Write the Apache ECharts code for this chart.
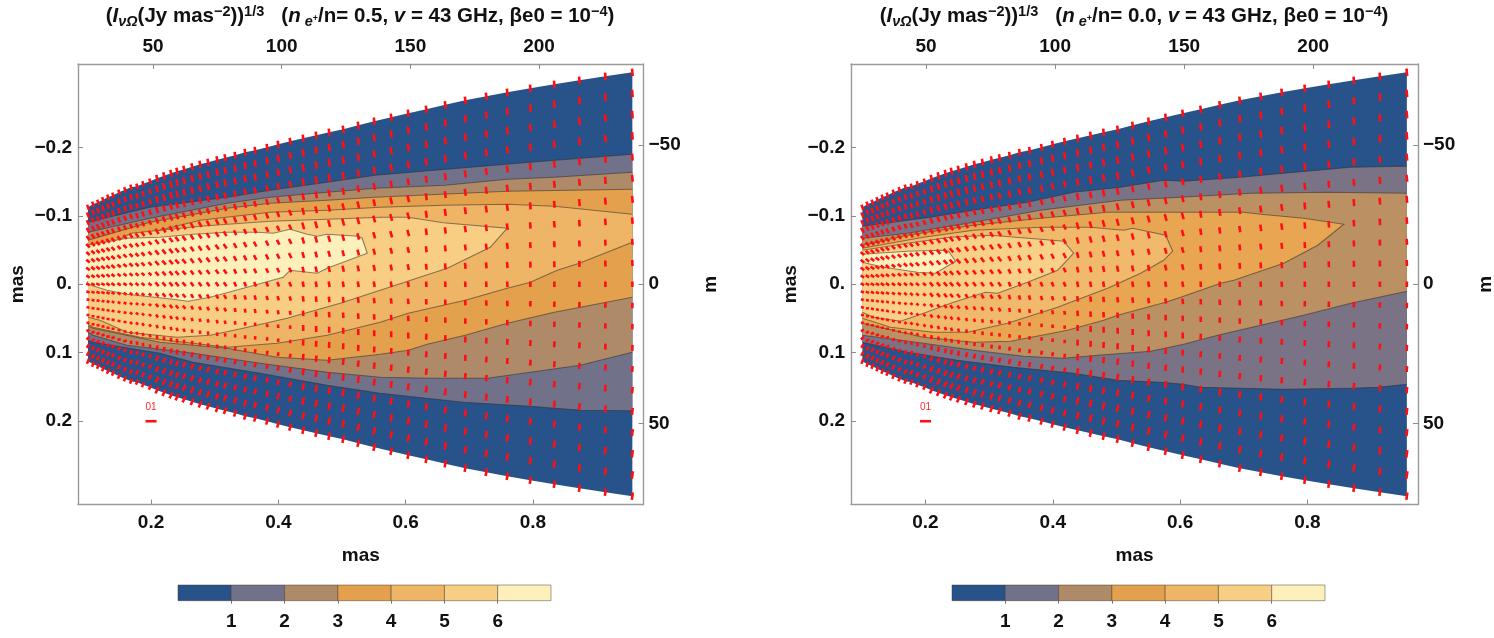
<!DOCTYPE html>
<html>
<head>
<meta charset="utf-8">
<style>html,body{margin:0;padding:0;background:#fff}#c{width:1494px;height:638px}</style>
<script src="https://cdn.jsdelivr.net/npm/echarts@6/dist/echarts.min.js"></script>
</head>
<body>
<div id="c"></div>
<script>
// ---------- axes ----------
const masTicksX = [0.2, 0.4, 0.6, 0.8];
const masMinorX = [0.1, 0.15, 0.25, 0.3, 0.35, 0.45, 0.5, 0.55, 0.65, 0.7, 0.75, 0.85, 0.9, 0.95];
const masLabelsX = ['0.2', '0.4', '0.6', '0.8'];
const mTicksTop = [50, 100, 150, 200];
const masTicksY = [-0.2, -0.1, 0, 0.1, 0.2];
const masLabelsY = ['\u22120.2', '\u22120.1', '0.', '0.1', '0.2'];
const mTicksRight = [-50, 0, 50];
const mLabelsRight = ['\u221250', '0', '50'];

// ---------- colour levels ----------
const levelValues = [1, 2, 3, 4, 5, 6];
const levelColors = ['#27528a', '#71718a', '#ae8a69', '#e3a04d', '#eeb566', '#f8ce84', '#fef0bb'];
const rightColors = ['#27528a', '#7a7386', '#bb9062', '#e8a652', '#f0b96b', '#f9d088', '#fef0bb'];

// ---------- grid of sampled columns (mas) and half width of the jet (mas) ----------
const colX = [0.1009,0.1088,0.1167,0.1245,0.1324,0.1403,0.1497,0.1591,0.1686,0.1780,0.1874,0.1984,0.2094,0.2204,0.2314,0.2409,0.2519,0.2645,0.2770,0.2896,0.3038,0.3164,0.3321,0.3478,0.3635,0.3824,0.3997,0.4186,0.4390,0.4594,0.4798,0.5019,0.5255,0.5506,0.5773,0.6041,0.6324,0.6623,0.6937,0.7267,0.7597,0.7959,0.8336,0.8730,0.9138,0.9562];
const colHalf = [0.1124,0.1168,0.1197,0.1234,0.1270,0.1299,0.1343,0.1380,0.1416,0.1431,0.1467,0.1504,0.1547,0.1584,0.1620,0.1650,0.1679,0.1715,0.1752,0.1781,0.1818,0.1847,0.1883,0.1927,0.1956,0.2000,0.2044,0.2088,0.2131,0.2175,0.2219,0.2263,0.2321,0.2380,0.2438,0.2496,0.2555,0.2620,0.2686,0.2745,0.2803,0.2861,0.2920,0.2978,0.3036,0.3095];
const rowFrac = [-1,-0.9,-0.8,-0.7,-0.6,-0.5,-0.4,-0.3,-0.2,-0.1,0,0.1,0.2,0.3,0.4,0.5,0.6,0.7,0.8,0.9,1];
const colBand = [0,0,0,0,1,1,1,1,2,2,2,2,3,3,3,3,3,4,4,4,4,4,5,5,5,5,5,5,6,6,6,6,6,6,6,6,7,7,7,7,7,8,8,8,8,8];

// tick direction in degrees from vertical, one row of values per band of columns
const tiltBand0 = [20,22,25,28,35,45,48,50,52,55,63,68,72,78,88,100,118,132,145,152,158];
const tiltBand1 = [16,18,20,24,30,42,46,48,50,52,58,62,66,72,80,92,108,125,140,148,154];
const tiltBand2 = [14,15,17,20,26,36,42,44,46,48,50,50,50,48,40,28,5,-18,-28,-28,-27];
const tiltBand3 = [12,13,15,18,24,32,38,40,42,42,42,40,38,32,20,5,-10,-22,-28,-28,-27];
const tiltBand4 = [10,11,13,16,22,28,33,35,36,36,34,30,26,16,5,-6,-16,-23,-25,-24,-23];
const tiltBand5 = [8,9,11,14,18,22,26,28,28,26,22,16,10,4,-3,-10,-15,-18,-19,-19,-18];
const tiltBand6 = [7,8,9,10,12,14,16,16,15,12,10,7,4,1,-2,-5,-8,-10,-12,-13,-13];
const tiltBand7 = [7,7,7,8,8,8,8,8,7,5,3,2,0,-2,-3,-5,-6,-8,-9,-10,-10];
const tiltBand8 = [5,5,5,5,5,5,5,4,3,2,0,-1,-2,-3,-4,-5,-6,-7,-7,-8,-8];
const tiltBands = [tiltBand0,tiltBand1,tiltBand2,tiltBand3,tiltBand4,tiltBand5,tiltBand6,tiltBand7,tiltBand8];

const sizeNear = [5.5,5.5,5.5,5.5,5,5,4.5,4.5,4.5,4,4,3.5,3,3,3,3,3.5,4,4.5,5,5.5];
const sizeMid = [7,7,7,6.5,6,6,5.5,5.5,5.5,5,5,4.5,4,3.5,3.5,4,5,5.5,6,6.5,7];
const sizeFar = [7.5,7.5,7.5,7.5,7,7,7,6.5,6,6,5.5,5.5,5.5,6,6,6.5,7,7,7.5,7.5,7.5];
const sizeBands = [sizeNear,sizeNear,sizeNear,sizeMid,sizeMid,sizeMid,sizeFar,sizeFar,sizeFar];

// ---------- contour regions, left panel (n_e+/n = 0.5) ----------
const leftLevel1 = [[.1009,-.0905],[.1984,-.1124],[.3195,-.1270],[.3871,-.1372],[.4767,-.1489],[.5521,-.1591],[.7958,-.1781],[.9562,-.1898],[.9562,.1847],[.8744,.1840],[.7958,.1781],[.6905,.1723],[.5600,.1591],[.4767,.1475],[.3714,.1299],[.2660,.1139],[.2141,.1007],[.1088,.0847],[.1009,.0818]];
const leftLevel2 = [[.1009,-.0759],[.1984,-.0964],[.3195,-.1183],[.3871,-.1270],[.4767,-.1343],[.5521,-.1402],[.6622,-.1445],[.7596,-.1533],[.8335,-.1562],[.9562,-.1635],[.9562,.0993],[.8744,.1183],[.7958,.1285],[.7282,.1372],[.6386,.1372],[.5600,.1358],[.4767,.1285],[.3714,.1153],[.2660,.1007],[.1623,.0891],[.1088,.0745],[.1009,.0701]];
const leftLevel3 = [[.1009,-.0642],[.1984,-.0905],[.3195,-.1110],[.3871,-.1183],[.4767,-.1226],[.5521,-.1270],[.7596,-.1358],[.9562,-.1387],[.9562,.0190],[.8335,.0409],[.7596,.0569],[.6936,.0745],[.6339,.0876],[.6040,.0964],[.5600,.1022],[.4767,.1110],[.3981,.1066],[.3195,.0934],[.2141,.0847],[.1088,.0642],[.1009,.0613]];
const leftLevel4 = [[.1009,-.0526],[.2770,-.0934],[.3871,-.1051],[.4767,-.1080],[.5600,-.1124],[.6590,-.1153],[.7596,-.1168],[.8335,-.1139],[.9562,-.1022],[.9562,-.0613],[.8728,-.0307],[.8382,-.0204],[.7958,-.0029],[.7596,.0058],[.6936,.0234],[.6040,.0423],[.5600,.0555],[.4767,.0745],[.3981,.0861],[.3195,.0920],[.2660,.0861],[.1827,.0774],[.1088,.0628],[.1009,.0584]];
const leftLevel5 = [[.1009,-.0409],[.1686,-.0745],[.2770,-.0847],[.3871,-.0920],[.4767,-.0949],[.5600,-.0978],[.6040,-.0978],[.6590,-.0898],[.7596,-.0818],[.7329,-.0540],[.6653,-.0234],[.5600,.0088],[.4971,.0277],[.4138,.0496],[.3446,.0642],[.2927,.0745],[.2409,.0774],[.1623,.0701],[.1198,.0526],[.1009,.0482]];
const leftLevel6 = [[.1009,-.0569],[.1623,-.0672],[.2141,-.0686],[.2660,-.0730],[.3195,-.0759],[.3666,-.0759],[.3918,-.0745],[.4185,-.0803],[.4452,-.0730],[.4610,-.0701],[.4767,-.0730],[.5254,-.0701],[.5317,-.0672],[.5396,-.0453],[.4767,-.0234],[.4610,-.0161],[.4185,-.0204],[.4075,-.0102],[.3509,.0044],[.2927,.0190],[.2582,.0248],[.2346,.0219],[.1623,.0146],[.1308,.0088],[.1009,0]];
const leftLevels = [leftLevel1,leftLevel2,leftLevel3,leftLevel4,leftLevel5,leftLevel6];

// ---------- contour regions, right panel (n_e+/n = 0.0) ----------
const rightLevel1 = [[.1009,-.0847],[.2079,-.0978],[.2755,-.1080],[.3603,-.1197],[.4327,-.1343],[.5065,-.1416],[.5741,-.1518],[.6056,-.1504],[.6952,-.1562],[.7628,-.1621],[.8681,-.1708],[.9562,-.1723],[.9562,.1460],[.9105,.1504],[.8681,.1518],[.7628,.1533],[.6323,.1504],[.6056,.1460],[.5694,.1431],[.5018,.1402],[.4327,.1299],[.3383,.1212],[.2503,.1110],[.1717,.0993],[.1009,.0847]];
const rightLevel2 = [[.1009,-.0672],[.1717,-.0745],[.2755,-.0905],[.3808,-.1080],[.5065,-.1226],[.6009,-.1270],[.7109,-.1329],[.8319,-.1343],[.9562,-.1329],[.9562,.0102],[.8681,.0277],[.7942,.0453],[.7266,.0599],[.6590,.0745],[.6056,.0876],[.5537,.0978],[.4704,.1037],[.4170,.1080],[.3541,.1051],[.2755,.0964],[.1969,.0861],[.1009,.0745]];
const rightLevel3 = [[.1009,-.0569],[.1717,-.0715],[.2755,-.0861],[.3808,-.0964],[.4861,-.1051],[.5537,-.1051],[.6999,-.1051],[.7266,-.1022],[.7942,-.0964],[.8571,-.0876],[.8162,-.0569],[.7628,-.0307],[.6842,-.0058],[.6637,-.0015],[.6009,.0190],[.5773,.0263],[.5018,.0453],[.4798,.0526],[.4232,.0672],[.3336,.0832],[.2755,.0847],[.1969,.0774],[.1009,.0569]];
const rightLevel4 = [[.1009,-.0526],[.1969,-.0686],[.2755,-.0788],[.3808,-.0832],[.4594,-.0832],[.5113,-.0788],[.5254,-.0818],[.5773,-.0715],[.5883,-.0482],[.5741,-.0350],[.5380,-.0161],[.4861,.0058],[.4075,.0336],[.3289,.0569],[.2660,.0701],[.2126,.0701],[.1450,.0628],[.1009,.0496]];
const rightLevel5 = [[.1009,-.0496],[.1717,-.0599],[.2393,-.0686],[.3022,-.0715],[.3808,-.0657],[.4170,-.0628],[.4327,-.0453],[.4075,-.0204],[.3603,-.0029],[.3132,.0131],[.2943,.0117],[.2440,.0263],[.1969,.0423],[.1607,.0540],[.1182,.0482],[.1009,.0409]];
const rightLevel6 = [[.1009,-.0438],[.1717,-.0482],[.2236,-.0496],[.2362,-.0482],[.2472,-.0336],[.2157,-.0161],[.1874,-.0175],[.1340,-.0248],[.1009,-.0321]];
const rightLevels = [rightLevel1,rightLevel2,rightLevel3,rightLevel4,rightLevel5,rightLevel6];

// ---------- legend of the red ticks ----------
const keyTick = [[0.2, 0.2, 90, 11]];
const keyLabel = '01';
const keyLabelPos = [0.2, 0.1796];

// ---------- titles ----------
const ratioLeft = '0.5';
const ratioRight = '0.0';

const FONT = '"Liberation Sans", Arial, sans-serif';
const AXC = '#9a9a9a';
const chart = echarts.init(document.getElementById('c'), null, {renderer: 'canvas'});

const envelope = colX.map((x, i) => [x, -colHalf[i]]).concat(colX.map((x, i) => [x, colHalf[i]]).reverse());
const ticks = [];
colX.forEach((x, c) => {
  rowFrac.forEach((f, r) => {
    ticks.push([x, f * colHalf[c], tiltBands[colBand[c]][r], sizeBands[colBand[c]][r]]);
  });
});

const edgeL = colX[0], edgeR = colX[colX.length - 1];
function openRuns(verts) {
  // contour lines only: the parts of a region's outline that run along the jet's cut ends are not drawn
  const n = verts.length;
  const isCut = (a, b) => (a[0] === edgeL && b[0] === edgeL) || (a[0] === edgeR && b[0] === edgeR);
  let start = 0;
  for (let i = 0; i < n; i++) {
    if (isCut(verts[i], verts[(i + 1) % n])) { start = (i + 1) % n; break; }
  }
  const runs = [];
  let run = [verts[start]];
  for (let k = 0; k < n; k++) {
    const a = verts[(start + k) % n], b = verts[(start + k + 1) % n];
    if (isCut(a, b)) {
      if (run.length > 1) runs.push(run);
      run = [b];
    } else {
      run.push(b);
    }
  }
  if (run.length > 1) runs.push(run);
  return runs;
}
function polygonSeries(verts, fill, stroke, xi, yi) {
  const runs = stroke ? openRuns(verts) : [];
  return {
    type: 'custom', xAxisIndex: xi, yAxisIndex: yi, silent: true, clip: true,
    encode: {x: 0, y: 1}, data: verts,
    renderItem(params, api) {
      if (params.dataIndex !== 0) return null;
      const children = [{
        type: 'polygon',
        shape: {points: verts.map(v => api.coord(v))},
        style: {fill: fill, stroke: null}
      }];
      runs.forEach(r => children.push({
        type: 'polyline',
        shape: {points: r.map(v => api.coord(v))},
        style: {fill: null, stroke: stroke, lineWidth: 1.1}
      }));
      return {type: 'group', children: children};
    }
  };
}
function tickSeries(rows, xi, yi) {
  return {
    type: 'custom', xAxisIndex: xi, yAxisIndex: yi, silent: true, clip: false, z: 5,
    encode: {x: 0, y: 1}, data: rows,
    renderItem(params, api) {
      const c = api.coord([api.value(0), api.value(1)]);
      const a = api.value(2) * Math.PI / 180, h = api.value(3) / 2;
      const dx = Math.sin(a) * h, dy = Math.cos(a) * h;
      return {
        type: 'line',
        shape: {x1: c[0] - dx, y1: c[1] - dy, x2: c[0] + dx, y2: c[1] + dy},
        style: {stroke: '#ff0f14', lineWidth: 2.6, lineCap: 'butt'}
      };
    }
  };
}
function keyLabelSeries(xi, yi) {
  return {
    type: 'custom', xAxisIndex: xi, yAxisIndex: yi, silent: true, z: 5,
    encode: {x: 0, y: 1}, data: [keyLabelPos],
    renderItem(params, api) {
      const c = api.coord([api.value(0), api.value(1)]);
      return {
        type: 'text',
        style: {text: keyLabel, x: c[0], y: c[1], fill: '#ff2a2a', align: 'center', verticalAlign: 'middle', font: '10px ' + FONT}
      };
    }
  };
}
function panelSeries(levels, colors, xi, yi) {
  const out = [polygonSeries(envelope, colors[0], null, xi, yi)];
  levels.forEach((v, i) => out.push(polygonSeries(v, colors[i + 1], 'rgba(50,45,40,0.55)', xi, yi)));
  out.push(tickSeries(ticks, xi, yi));
  out.push(tickSeries(keyTick, xi, yi));
  out.push(keyLabelSeries(xi, yi));
  return out;
}
function barSeries(xi, yi) {
  const cells = levelColors.map((c, i) => [i, i + 1]);
  return {
    type: 'custom', xAxisIndex: xi, yAxisIndex: yi, silent: true,
    encode: {x: [0, 1]}, data: cells,
    renderItem(params, api) {
      const p = api.coord([api.value(0), 1]), q = api.coord([api.value(1), 0]);
      return {
        type: 'rect',
        shape: {x: p[0], y: p[1], width: q[0] - p[0], height: q[1] - p[1]},
        style: {fill: levelColors[params.dataIndex], stroke: 'rgba(60,50,40,0.45)', lineWidth: 1}
      };
    }
  };
}

const lblStyle = {color: '#111', fontFamily: FONT, fontWeight: 'bold', fontSize: 19};
const line = {show: true, onZero: false, lineStyle: {color: AXC, width: 1.4}};
const tick = (vals, len) => ({show: true, inside: true, length: len, customValues: vals, lineStyle: {color: '#8c8c8c', width: 1}});
const labelOf = (vals, labels) => v => {
  const i = vals.findIndex(k => Math.abs(k - v) < 1e-6);
  return i < 0 ? '' : labels[i];
};

function xAxes(grid, minMas, minTop) {
  return [
    {gridIndex: grid, type: 'value', position: 'bottom', min: minMas, max: 0.9737,
     axisLine: line, axisTick: tick(masTicksX, 5), splitLine: {show: false},
     axisLabel: Object.assign({margin: 9, customValues: masTicksX, formatter: labelOf(masTicksX, masLabelsX)}, lblStyle),
     name: 'mas', nameLocation: 'middle', nameGap: 42, nameMoveOverlap: false, nameTextStyle: lblStyle},
    {gridIndex: grid, type: 'value', position: 'top', min: minTop, max: 240.6,
     axisLine: line, axisTick: tick(mTicksTop, 5), splitLine: {show: false},
     axisLabel: Object.assign({margin: 8, customValues: mTicksTop, formatter: v => String(v)}, lblStyle)},
    {gridIndex: grid, type: 'value', position: 'bottom', min: minMas, max: 0.9737,
     axisLine: {show: false}, axisTick: tick(masMinorX, 3), splitLine: {show: false},
     axisLabel: {show: false}}
  ];
}
function yAxes(grid) {
  return [
    {gridIndex: grid, type: 'value', position: 'left', inverse: true, min: -0.3216, max: 0.3216,
     axisLine: line, axisTick: tick(masTicksY, 5), splitLine: {show: false},
     axisLabel: Object.assign({margin: 6, customValues: masTicksY, formatter: labelOf(masTicksY, masLabelsY)}, lblStyle),
     name: 'mas', nameLocation: 'middle', nameGap: 51, nameMoveOverlap: false, nameRotate: 90, nameTextStyle: lblStyle},
    {gridIndex: grid, type: 'value', position: 'right', inverse: true, min: -79.2, max: 79.2,
     axisLine: line, axisTick: tick(mTicksRight, 5), splitLine: {show: false},
     axisLabel: Object.assign({margin: 5, customValues: mTicksRight, formatter: labelOf(mTicksRight, mLabelsRight)}, lblStyle),
     name: 'm', nameLocation: 'middle', nameGap: 58, nameMoveOverlap: false, nameRotate: 90, nameTextStyle: lblStyle}
  ];
}
function barX(grid) {
  return {gridIndex: grid, type: 'value', min: 0, max: 7, position: 'bottom',
    axisLine: {show: false}, splitLine: {show: false},
    axisTick: {show: true, length: 3, customValues: levelValues, lineStyle: {color: '#777', width: 1}},
    axisLabel: Object.assign({margin: 12, customValues: levelValues, formatter: v => String(v)}, lblStyle)};
}
function barY(grid) {
  return {gridIndex: grid, type: 'value', min: 0, max: 1, show: false};
}
function titleRich(ratio) {
  return '{b|(}{i|I}{s|\u03bd\u03a9}{b|(Jy mas}{u|\u22122}{b|))}{u|1/3}{b|   (}{i|n}{s| e}{p|+}{b|/n= ' + ratio + ', }{i|v}{b| = 43 GHz, \u03b2e0 = 10}{u|\u22124}{b|)}';
}
const titleRichStyles = {
  b: {fontFamily: FONT, fontWeight: 'bold', fontSize: 20.5, color: '#111', lineHeight: 30},
  i: {fontFamily: FONT, fontWeight: 'bold', fontStyle: 'italic', fontSize: 20.5, color: '#111', lineHeight: 30},
  s: {fontFamily: FONT, fontWeight: 'bold', fontStyle: 'italic', fontSize: 14.5, color: '#111', lineHeight: 30, verticalAlign: 'bottom', padding: [0, 0, 2, 0]},
  p: {fontFamily: FONT, fontWeight: 'bold', fontSize: 9, color: '#111', lineHeight: 30, verticalAlign: 'bottom', padding: [0, 0, 8, 0]},
  u: {fontFamily: FONT, fontWeight: 'bold', fontSize: 14.5, color: '#111', lineHeight: 30, verticalAlign: 'top', padding: [3, 0, 0, 0]}
};
const noBounds = {outerBoundsMode: 'none', containLabel: false};

chart.setOption({
  animation: false,
  backgroundColor: '#fff',
  title: [
    {text: titleRich(ratioLeft), left: 360, top: 1, padding: 0, textAlign: 'center', textStyle: {rich: titleRichStyles}},
    {text: titleRich(ratioRight), left: 1134, top: 1, padding: 0, textAlign: 'center', textStyle: {rich: titleRichStyles}}
  ],
  grid: [
    Object.assign({left: 78, top: 64, width: 565.5, height: 440.5}, noBounds),
    Object.assign({left: 851, top: 64, width: 567, height: 440.5}, noBounds),
    Object.assign({left: 178, top: 585, width: 373, height: 15.7}, noBounds),
    Object.assign({left: 952, top: 585, width: 373, height: 15.7}, noBounds)
  ],
  xAxis: [].concat(xAxes(0, 0.0852, 20.85), xAxes(1, 0.0830, 20.9), [barX(2), barX(3)]),
  yAxis: [].concat(yAxes(0), yAxes(1), [barY(2), barY(3)]),
  series: [].concat(
    panelSeries(leftLevels, levelColors, 0, 0),
    panelSeries(rightLevels, rightColors, 3, 2),
    [barSeries(6, 4), barSeries(7, 5)]
  )
});
</script>
</body>
</html>
